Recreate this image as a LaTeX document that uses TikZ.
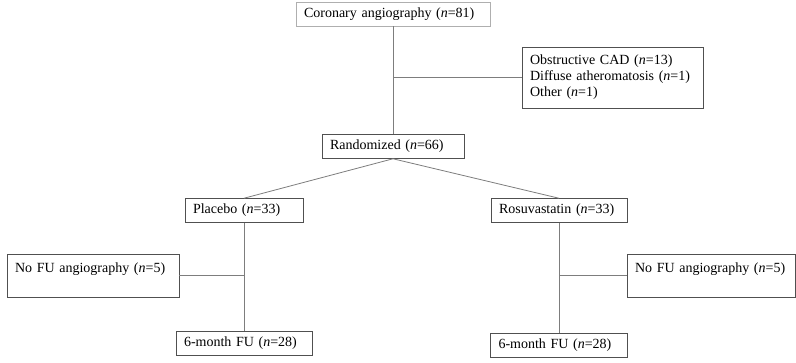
\documentclass[tikz,border=0pt]{standalone}
\usepackage{fontspec}
\setmainfont{Liberation Serif}
\definecolor{linegray}{RGB}{125,125,125}
\definecolor{boxgray}{RGB}{80,80,80}
\definecolor{lightgray}{RGB}{175,175,175}
\tikzset{
  blk/.style={draw=boxgray, inner xsep=6pt, inner ysep=0pt, align=left,
    minimum height=18pt, font=\fontsize{10.5}{12}\selectfont},
  conn/.style={draw=linegray, line width=0.6pt}
}
\begin{document}
\begin{tikzpicture}[x=0.75pt, y=0.75pt]
		\useasboundingbox (0,0) rectangle (796,-362);
		\node (Co) at (393,-14)    [blk, draw=lightgray, text width=133.5pt] {Coronary angiography (\textit{n}=81)};
		\node (Ex) at (612.5,-77.5) [blk, text width=123.75pt, minimum height=45.75pt] {Obstructive CAD (\textit{n}=13)\\Diffuse atheromatosis (\textit{n}=1)\\Other (\textit{n}=1)};
		\node (Ra) at (393,-146.5) [blk, text width=94.5pt] {Randomized (\textit{n}=66)};
		\node (Pl) at (244,-210.5) [blk, text width=76.5pt] {Placebo (\textit{n}=33)};
		\node (Ro) at (559,-210.5) [blk, text width=90pt] {Rosuvastatin (\textit{n}=33)};
		\node (NL) at (93,-275.5)  [blk, text width=117pt, minimum height=32.25pt] {No FU angiography (\textit{n}=5)\\\mbox{}};
		\node (NR) at (711,-275.5) [blk, text width=114pt, minimum height=32.25pt] {No FU angiography (\textit{n}=5)\\\mbox{}};
		\node (FL) at (244,-343.5) [blk, text width=90pt] {6-month FU (\textit{n}=28)};
		\node (FR) at (559,-345.5) [blk, text width=90.75pt] {6-month FU (\textit{n}=28)};
		% connectors
		\draw[conn] (Co.south) -- (Ra.north);
		\draw[conn] (Ex.west) -- (Ex.west -| Co.south);
		\draw[conn] (Ra.south) -- (Pl.north);
		\draw[conn] (Ra.south) -- (Ro.north);
		\draw[conn] (Pl.south) -- (FL.north);
		\draw[conn] (NL.east) -- (NL.east -| Pl.south);
		\draw[conn] (Ro.south) -- (FR.north);
		\draw[conn] (NR.west) -- (NR.west -| Ro.south);
	\end{tikzpicture}
\end{document}
